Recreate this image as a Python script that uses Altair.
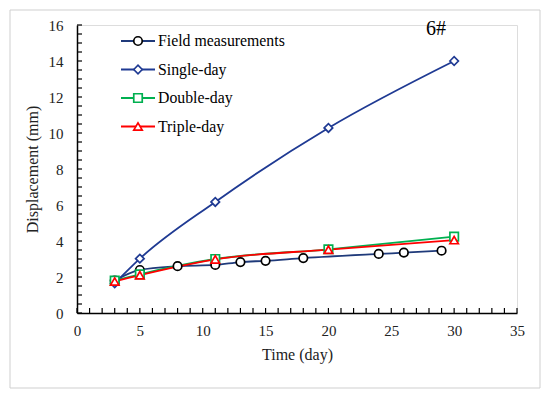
import altair as alt
import pandas as pd

series = ["Field measurements", "Single-day", "Double-day", "Triple-day"]
line_colors = ["#1F3A7A", "#1F3A93", "#00B050", "#FF0000"]
marker_colors = ["#000000", "#1F3A93", "#00B050", "#FF0000"]
shapes = ["circle", "diamond", "square", "triangle-up"]

field_t = [3, 5, 8, 11, 13, 15, 18, 24, 26, 29]
field_d = [1.8, 2.39, 2.6, 2.67, 2.83, 2.9, 3.05, 3.28, 3.35, 3.46]
single_t = [3, 5, 11, 20, 30]
single_d = [1.65, 3.02, 6.17, 10.28, 14.0]
double_t = [3, 5, 11, 20, 30]
double_d = [1.8, 2.15, 3.0, 3.54, 4.24]
triple_t = [3, 5, 11, 20, 30]
triple_d = [1.75, 2.1, 2.98, 3.52, 4.05]

x_ticks_major = [0, 5, 10, 15, 20, 25, 30, 35]
y_ticks_major = [0, 2, 4, 6, 8, 10, 12, 14, 16]
x_ticks_minor = list(range(0, 36))
y_ticks_minor = [i * 0.5 for i in range(0, 33)]

rows = []
for name, ts, ds in zip(series, [field_t, single_t, double_t, triple_t],
                        [field_d, single_d, double_d, triple_d]):
    for t, d in zip(ts, ds):
        rows.append({"kind": "data", "series": name, "t": t, "d": d})
for v in x_ticks_minor:
    rows.append({"kind": "xtick", "series": "", "t": v, "d": 0.0})
for v in y_ticks_minor:
    rows.append({"kind": "ytick", "series": "", "t": 0.0, "d": v})
df = pd.DataFrame(rows)

W, H = 440, 288
FONT = "Liberation Serif"

xs = alt.Scale(domain=[0, 35], nice=False)
ys = alt.Scale(domain=[0, 16], nice=False)

ax_x = alt.Axis(values=x_ticks_major, title="Time (day)", ticks=False, grid=False,
                domainColor="#000", domainWidth=1.5, labelFont=FONT, labelFontSize=15,
                labelColor="#222", labelFlush=False, labelOverlap=False, labelPadding=10,
                titleFont=FONT, titleFontSize=16, titleFontWeight="normal",
                titleColor="#222", titlePadding=8)
ax_y = alt.Axis(values=y_ticks_major, title="Displacement (mm)", ticks=False, grid=False,
                domainColor="#000", domainWidth=1.5, labelFont=FONT, labelFontSize=15,
                labelColor="#222", labelFlush=False, labelOverlap=False, labelPadding=14,
                titleFont=FONT, titleFontSize=16, titleFontWeight="normal",
                titleColor="#222", titlePadding=8)

X = alt.X("t:Q", scale=xs, axis=ax_x)
Y = alt.Y("d:Q", scale=ys, axis=ax_y)

color_scale = alt.Scale(domain=series, range=line_colors)
stroke_scale = alt.Scale(domain=series, range=marker_colors)
shape_scale = alt.Scale(domain=series, range=shapes)

base = alt.Chart(df)
data_base = base.transform_filter(alt.datum.kind == "data")

lines = data_base.mark_line(interpolate="monotone", strokeWidth=1.8).encode(
    x=X, y=Y,
    color=alt.Color("series:N", scale=color_scale, legend=None),
    detail="series:N",
)

points = data_base.mark_point(filled=False, fill="white", fillOpacity=1, strokeWidth=1.7, size=72).encode(
    x=X, y=Y,
    stroke=alt.Stroke("series:N", scale=stroke_scale, legend=None),
    shape=alt.Shape("series:N", scale=shape_scale, legend=None),
)

# small inward ticks along both axes, drawn as path-shaped points
xt = base.transform_filter(alt.datum.kind == "xtick").mark_point(
    shape="M0,0L0,-1", size=100, filled=False, stroke="#000", strokeWidth=1.2,
    opacity=1).encode(x=X, y=Y)
yt = base.transform_filter(alt.datum.kind == "ytick").mark_point(
    shape="M0,0L1,0", size=100, filled=False, stroke="#000", strokeWidth=1.2,
    opacity=1).encode(x=X, y=Y)

# manual legend
leg = pd.DataFrame({"series": series, "idx": [0, 1, 2, 3]})
lbase = alt.Chart(leg).transform_calculate(ly="16 + datum.idx * 28.5")
leg_lines = lbase.mark_rule(strokeWidth=1.8).encode(
    x=alt.value(44), x2=alt.value(78),
    y=alt.Y("ly:Q", scale=None),
    color=alt.Color("series:N", scale=color_scale, legend=None))
leg_pts = lbase.mark_point(filled=False, fill="white", fillOpacity=1, strokeWidth=1.7, size=72).encode(
    x=alt.value(61), y=alt.Y("ly:Q", scale=None),
    stroke=alt.Stroke("series:N", scale=stroke_scale, legend=None),
    shape=alt.Shape("series:N", scale=shape_scale, legend=None))
leg_txt = lbase.mark_text(align="left", baseline="middle", font=FONT, fontSize=15.8, color="#000").encode(
    x=alt.value(81), y=alt.Y("ly:Q", scale=None), text="series:N")

label = alt.Chart(pd.DataFrame({"lab": ["6#"]})).mark_text(
    font=FONT, fontSize=20, color="#000", baseline="middle").encode(
    x=alt.value(359), y=alt.value(4), text="lab:N")

frame = alt.Chart(pd.DataFrame({"a": [0]})).mark_rect(
    fill=None, stroke="#cfcfcf", strokeWidth=1).encode(
    x=alt.value(-67), x2=alt.value(463), y=alt.value(-15), y2=alt.value(363))

chart = alt.layer(xt, yt, lines, points, leg_lines, leg_pts, leg_txt, label, frame).properties(
    width=W, height=H,
    autosize=alt.AutoSizeParams(type="none"),
    padding={"left": 69, "top": 17, "right": 25, "bottom": 78},
).configure_view(stroke=None).configure(background="white")

chart.save("out.html", embed_options={"renderer": "svg", "actions": False})
